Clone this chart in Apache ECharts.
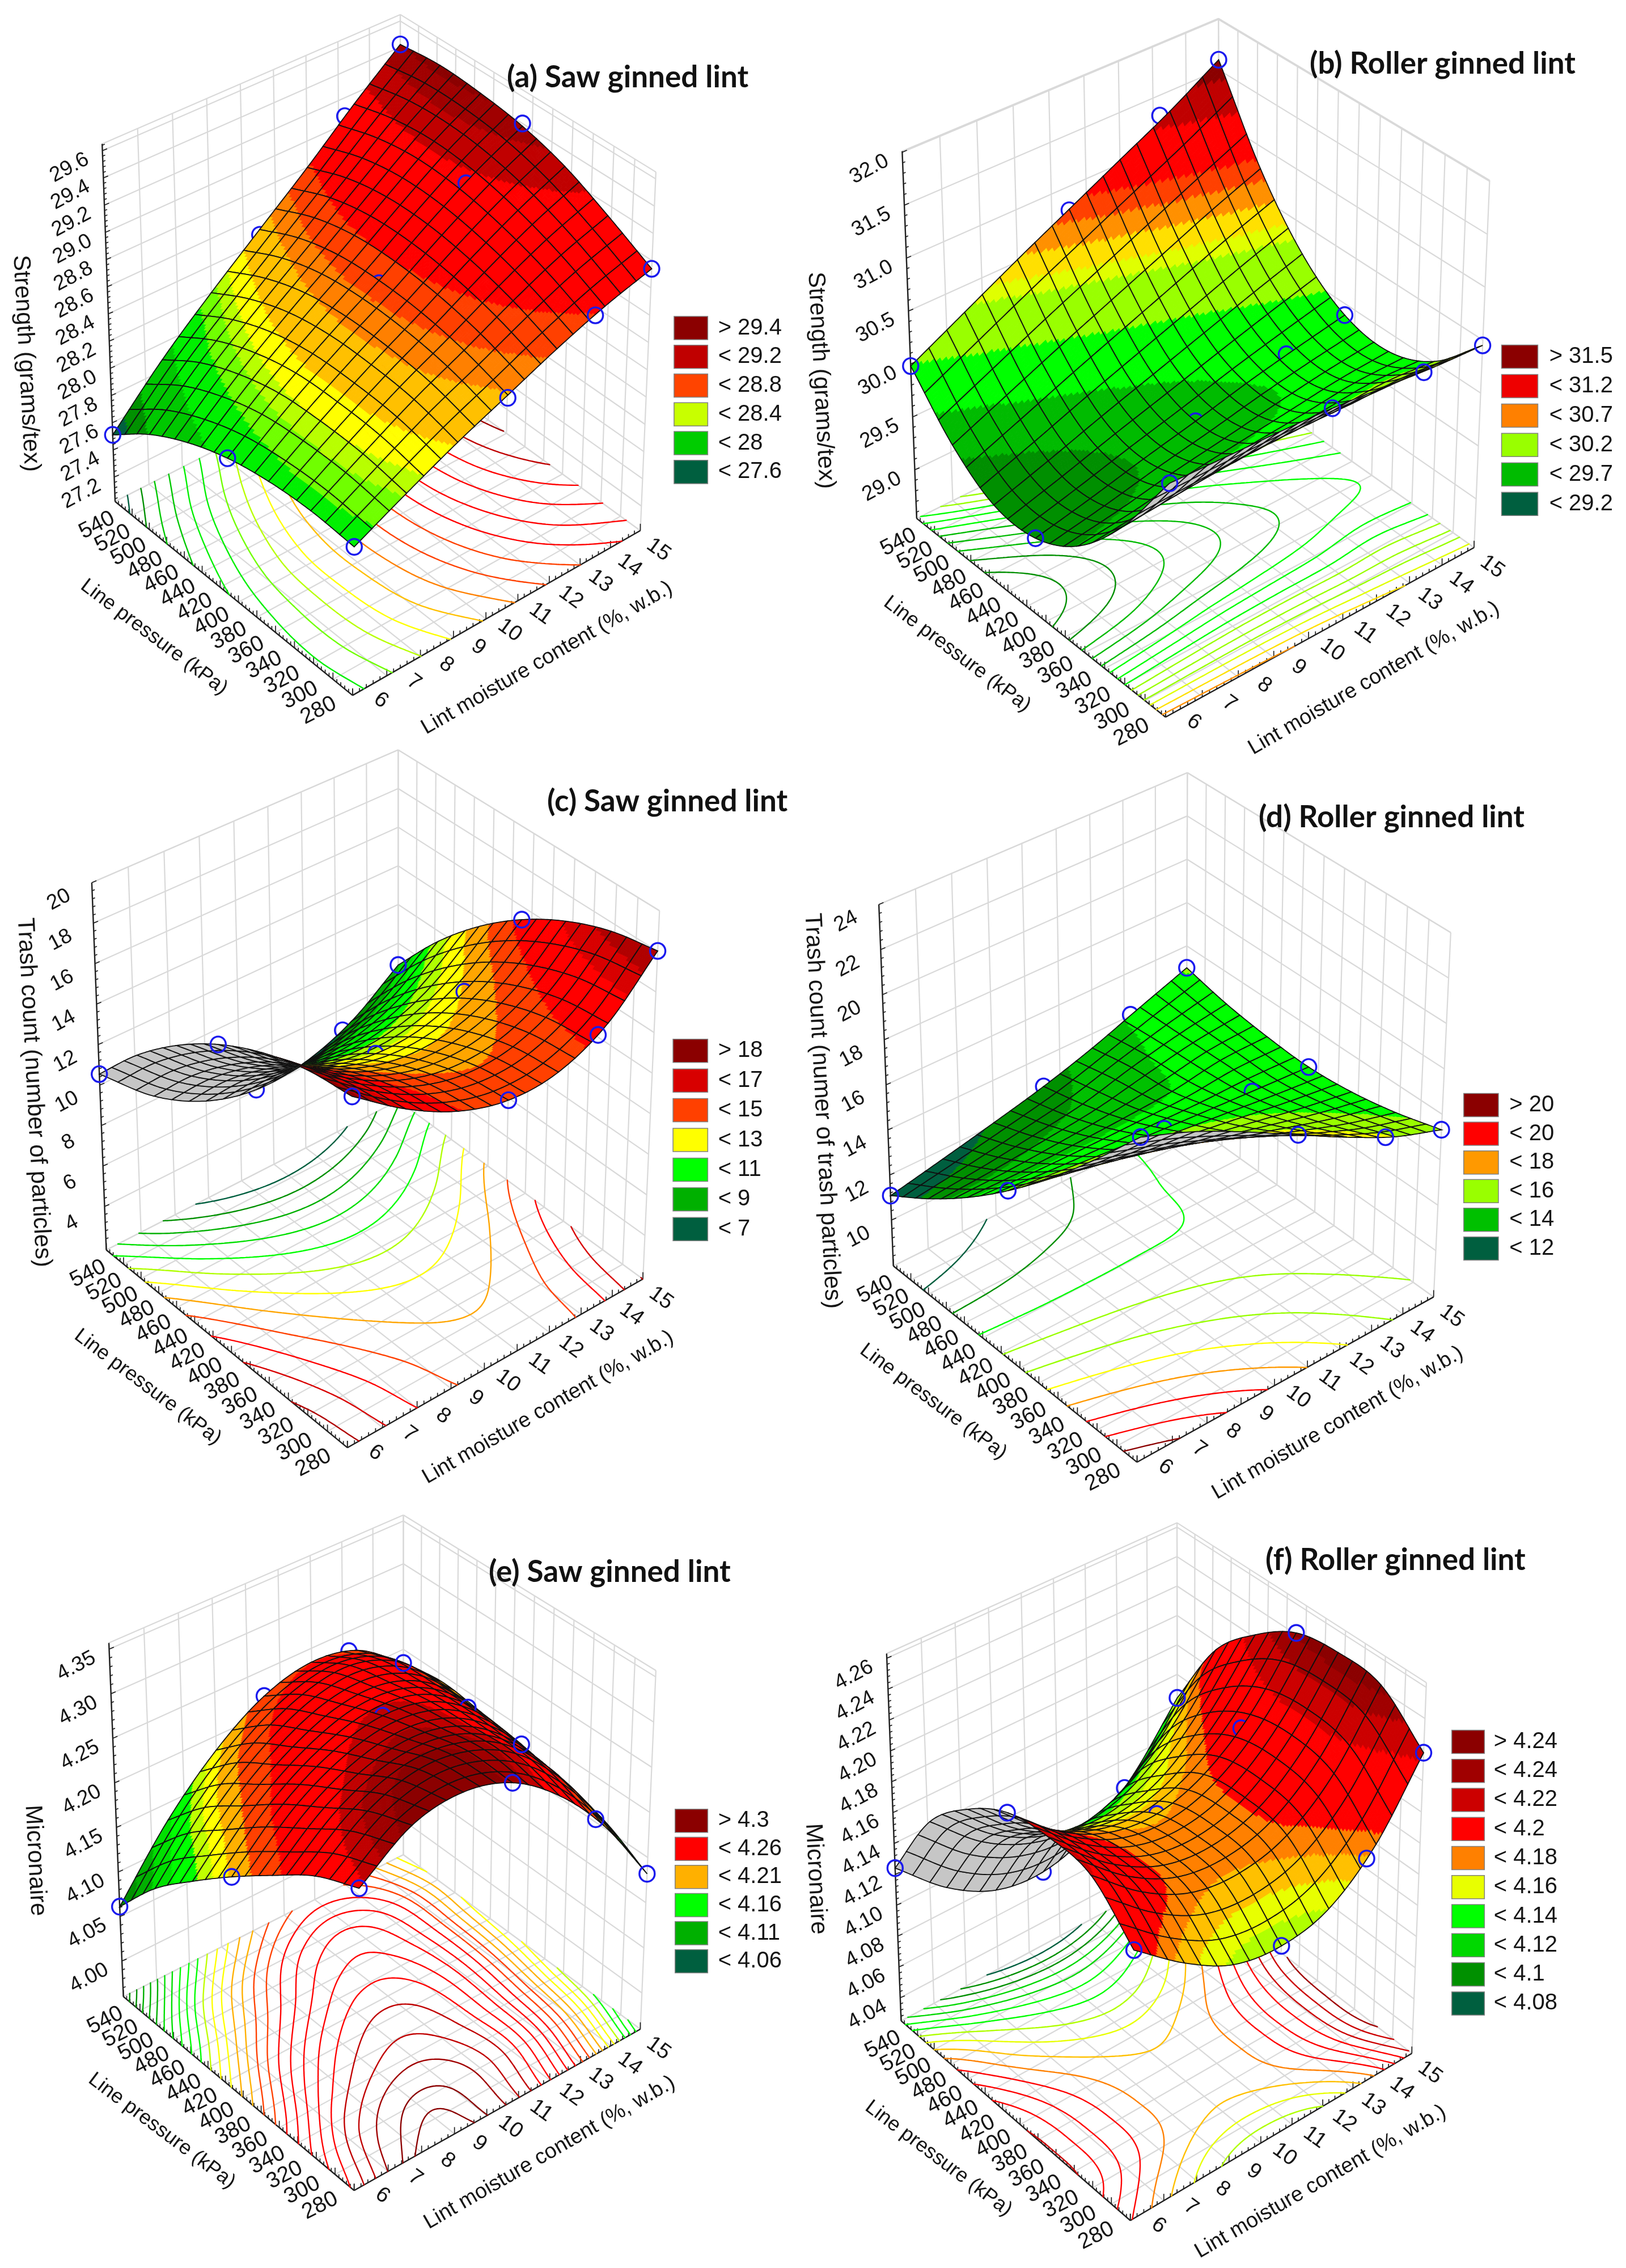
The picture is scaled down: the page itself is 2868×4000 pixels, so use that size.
<!DOCTYPE html>
<html><head><meta charset="utf-8">
<style>html,body{margin:0;padding:0;background:#fff}#chart{width:2868px;height:4000px}</style>
<script src="https://cdn.jsdelivr.net/npm/echarts@6/dist/echarts.min.js"></script>
</head><body><div id="chart"></div>
<script>
// ---------- axes shared by all six panels ----------
const moistureTicks = [6,7,8,9,10,11,12,13,14,15];
const pressureTicks = [280,300,320,340,360,380,400,420,440,460,480,500,520,540];
const gridPressure = [280,323,367,410,453,497,540];      // rows of each surface table
const gridMoisture = [6,7.5,9,10.5,12,13.5,15];          // columns of each surface table
const designPressure = [280,410,540];                    // blue circles
const designMoisture = [6,10.5,13.2,15];

// ---------- (a) strength, saw ginned ----------
const strengthSawGrid = [
 [28.06,28.24,28.41,28.56,28.71,28.84,28.94],
 [28.08,28.29,28.49,28.66,28.84,29.00,29.12],
 [28.06,28.30,28.52,28.72,28.93,29.12,29.28],
 [28.00,28.28,28.52,28.74,28.98,29.20,29.38],
 [27.89,28.20,28.47,28.72,28.98,29.23,29.43],
 [27.73,28.07,28.36,28.64,28.92,29.20,29.45],
 [27.51,27.88,28.20,28.50,28.80,29.12,29.42]];
const strengthSawDesign = [[28.06,28.54,28.81,28.94],[28.00,28.72,29.15,29.40],[27.51,28.46,29.06,29.42]];
const strengthSawLimits = [27.6,27.72,27.95,28.13,28.23,28.3,28.4,28.57,28.68,28.82,29.2,29.33,29.42];
const strengthSawBands = ['#005f3f','#009000','#00c800','#00f000','#70ff00','#b8ff00','#ffff00','#ffc000','#ff8000','#ff4000','#ff0000','#c00000','#a00000','#8b0000'];
const strengthSawContours = [27.6,27.7,27.8,27.9,28.0,28.1,28.2,28.3,28.4,28.5,28.6,28.7,28.8,28.9,29.0,29.1,29.2,29.3,29.4];
const strengthSawLegend = ['> 29.4','< 29.2','< 28.8','< 28.4','< 28','< 27.6'];
const strengthSawLegendColors = ['#8b0000','#c00000','#ff4400','#c8ff00','#00cc00','#005f3f'];
const strengthSawZTicks = ['27.2','27.4','27.6','27.8','28.0','28.2','28.4','28.6','28.8','29.0','29.2','29.4','29.6'];

// ---------- (b) strength, roller ginned ----------
const strengthRollerGrid = [
 [30.65,30.63,30.61,30.58,30.53,30.48,30.45],
 [29.95,29.99,30.02,30.03,30.03,30.05,30.01],
 [29.47,29.53,29.61,29.67,29.73,29.79,29.82],
 [29.24,29.35,29.47,29.58,29.70,29.80,29.89],
 [29.25,29.41,29.58,29.74,29.90,30.06,30.21],
 [29.52,29.74,29.96,30.17,30.38,30.59,30.78],
 [29.98,30.25,30.52,30.78,31.04,31.30,31.60]];
const strengthRollerDesign = [[30.65,30.58,30.48,30.45],[29.24,29.58,29.79,29.89],[29.98,30.77,31.30,31.60]];
const strengthRollerLimits = [29.2,29.45,29.7,30.0,30.3,30.4,30.55,30.7,30.85,31.2,31.45];
const strengthRollerBands = ['#005f3f','#008f00','#00bb00','#00ff00','#99ff00','#e0ff00','#ffe000','#ff9000','#ff4000','#ff0000','#c00000','#8b0000'];
const strengthRollerContours = [29.2,29.3,29.4,29.5,29.6,29.7,29.8,29.9,30.0,30.1,30.2,30.3,30.4,30.5,30.6,30.7,30.8,30.9,31.0,31.1,31.2];
const strengthRollerLegend = ['> 31.5','< 31.2','< 30.7','< 30.2','< 29.7','< 29.2'];
const strengthRollerLegendColors = ['#8b0000','#ee0000','#ff8000','#99ff00','#00bb00','#005f3f'];
const strengthRollerZTicks = ['29.0','29.5','30.0','30.5','31.0','31.5','32.0'];

// ---------- (c) trash count, saw ginned ----------
const trashSawGrid = [
 [18.42,16.53,15.13,14.39,14.50,15.66,18.02],
 [18.17,16.20,14.80,14.10,14.24,15.36,17.56],
 [17.47,15.43,14.03,13.35,13.51,14.58,16.65],
 [16.37,14.25,12.83,12.18,12.35,13.38,15.33],
 [14.85,12.66,11.22,10.57,10.75,11.74,13.60],
 [12.92,10.64,9.18,8.53,8.71,9.68,11.45],
 [10.54,8.19,6.70,6.04,6.21,7.15,8.87]];
const trashSawDesign = [[18.42,14.39,15.33,18.02],[16.37,12.18,13.10,15.33],[10.54,6.04,6.90,8.87]];
const trashSawLimits = [7,8,9,10,11,12,13,14,15,16.5,17.3,18];
const trashSawBands = ['#005f3f','#009000','#00b000','#00e000','#00ff00','#b0ff00','#ffff00','#ffa500','#ff4000','#ff0000','#d80000','#b00000','#8b0000'];
const trashSawContours = [7,8,9,10,11,12,13,14,15,16,17,18];
const trashSawLegend = ['> 18','< 17','< 15','< 13','< 11','< 9','< 7'];
const trashSawLegendColors = ['#8b0000','#d80000','#ff4000','#ffff00','#00ff00','#00b000','#005f3f'];
const trashSawZTicks = ['4','6','8','10','12','14','16','18','20'];

// ---------- (d) trash count, roller ginned ----------
const trashRollerGrid = [
 [21.74,20.81,19.65,18.40,17.18,16.10,15.32],
 [19.38,18.65,17.84,16.96,16.12,15.35,14.75],
 [17.22,16.71,16.20,15.68,15.20,14.74,14.36],
 [15.32,15.05,14.83,14.64,14.48,14.33,14.19],
 [13.67,13.64,13.69,13.78,13.92,14.25,14.30],
 [12.27,12.50,12.80,13.14,13.72,14.20,14.55],
 [11.08,11.58,12.10,12.66,13.35,14.18,14.99]];
const trashRollerDesign = [[21.74,18.40,16.30,15.32],[15.32,14.64,14.35,14.19],[11.08,12.66,14.04,14.99]];
const trashRollerLimits = [12,13,13.9,14.9,16,17,18,20];
const trashRollerBands = ['#005f3f','#009000','#00c000','#00ff00','#99ff00','#ffff00','#ff9900','#ff0000','#8b0000'];
const trashRollerContours = [12,13,14,15,16,17,18,19,20,21];
const trashRollerLegend = ['> 20','< 20','< 18','< 16','< 14','< 12'];
const trashRollerLegendColors = ['#8b0000','#ff0000','#ff9900','#99ff00','#00c000','#005f3f'];
const trashRollerZTicks = ['10','12','14','16','18','20','22','24'];

// ---------- (e) micronaire, saw ginned ----------
const micSawGrid = [
 [4.282,4.321,4.329,4.312,4.271,4.211,4.132],
 [4.261,4.303,4.321,4.314,4.285,4.231,4.158],
 [4.228,4.274,4.299,4.303,4.283,4.238,4.170],
 [4.193,4.245,4.277,4.290,4.280,4.243,4.181],
 [4.155,4.211,4.250,4.272,4.271,4.243,4.187],
 [4.114,4.177,4.223,4.252,4.260,4.240,4.192],
 [4.061,4.131,4.184,4.220,4.234,4.223,4.184]];
const micSawDesign = [[4.282,4.312,4.224,4.132],[4.193,4.290,4.253,4.181],[4.061,4.220,4.227,4.184]];
const micSawLimits = [4.06,4.085,4.11,4.135,4.16,4.175,4.19,4.21,4.235,4.285,4.30,4.315];
const micSawBands = ['#005f3f','#008f00','#00b000','#00e000','#00ff00','#c0ff00','#ffff00','#ffb000','#ff4000','#ff0000','#c00000','#a00000','#8b0000'];
const micSawContours = [4.05,4.06,4.07,4.08,4.09,4.10,4.11,4.12,4.13,4.14,4.15,4.16,4.17,4.18,4.19,4.20,4.21,4.22,4.23,4.24,4.25,4.26,4.27,4.28,4.29,4.30,4.31,4.32,4.325];
const micSawLegend = ['> 4.3','< 4.26','< 4.21','< 4.16','< 4.11','< 4.06'];
const micSawLegendColors = ['#8b0000','#ff0000','#ffb000','#00ff00','#00b000','#005f3f'];
const micSawZTicks = ['4.00','4.05','4.10','4.15','4.20','4.25','4.30','4.35'];

// ---------- (f) micronaire, roller ginned ----------
const micRollerGrid = [
 [4.191,4.166,4.148,4.143,4.150,4.175,4.218],
 [4.217,4.190,4.173,4.169,4.177,4.201,4.243],
 [4.221,4.194,4.177,4.173,4.182,4.207,4.246],
 [4.217,4.189,4.172,4.168,4.178,4.202,4.241],
 [4.200,4.171,4.154,4.149,4.159,4.185,4.222],
 [4.173,4.144,4.127,4.122,4.132,4.156,4.194],
 [4.124,4.095,4.077,4.073,4.083,4.107,4.144]];
const micRollerDesign = [[4.191,4.143,4.169,4.218],[4.217,4.168,4.196,4.241],[4.124,4.073,4.101,4.144]];
const micRollerLimits = [4.08,4.10,4.12,4.14,4.15,4.16,4.17,4.18,4.215,4.23,4.24];
const micRollerBands = ['#005f3f','#009000','#00d800','#00ff00','#b0ff00','#e8ff00','#ffc000','#ff8000','#ff0000','#cc0000','#a00000','#8b0000'];
const micRollerContours = [4.08,4.09,4.10,4.11,4.12,4.13,4.14,4.15,4.16,4.17,4.18,4.19,4.20,4.21,4.22,4.23,4.24];
const micRollerLegend = ['> 4.24','< 4.24','< 4.22','< 4.2','< 4.18','< 4.16','< 4.14','< 4.12','< 4.1','< 4.08'];
const micRollerLegendColors = ['#8b0000','#a00000','#cc0000','#ff0000','#ff8000','#e8ff00','#00ff00','#00d800','#009000','#005f3f'];
const micRollerZTicks = ['4.04','4.06','4.08','4.10','4.12','4.14','4.16','4.18','4.20','4.22','4.24','4.26'];

// ---------- layout (pixels of the page; u/v are measured on a 1568-square view of each quadrant) ----------
const SX = 1434/1568, SY = 1340/1568, FONT = 'Liberation Sans';
const panels = [
 {title:'(a) Saw ginned lint',zTitle:'Strength (grams/tex)',grid:strengthSawGrid,design:strengthSawDesign,limits:strengthSawLimits,bands:strengthSawBands,contours:strengthSawContours,legend:strengthSawLegend,legendColors:strengthSawLegendColors,zTicks:strengthSawZTicks,
  ox:0,oy:0,zr:[27.02,29.65],FL:[222,1035],FF:[680,1435],FR:[1235,1095],FB:[772,735],TL:[197,297],TF:[688,660],TR:[1265,355],TB:[772,30],
  tx:894,ty:137,ztp:[50,750],ptp:[297,1315],mtp:[1055,1358],lg:[1300,1365,677,974,1385]},
 {title:'(b) Roller ginned lint',zTitle:'Strength (grams/tex)',grid:strengthRollerGrid,design:strengthRollerDesign,limits:strengthRollerLimits,bands:strengthRollerBands,contours:strengthRollerContours,legend:strengthRollerLegend,legendColors:strengthRollerLegendColors,zTicks:strengthRollerZTicks,
  ox:1434,oy:0,zr:[28.54,32.01],FL:[200,1070],FF:[680,1480],FR:[1275,1130],FB:[785,760],TL:[172,312],TF:[693,686],TR:[1305,372],TB:[782,38],
  tx:2310,ty:113,ztp:[15,785],ptp:[278,1350],mtp:[1082,1400],lg:[1328,1398,736,1040,1420]},
 {title:'(c) Saw ginned lint',zTitle:'Trash count (number of particles)',grid:trashSawGrid,design:trashSawDesign,limits:trashSawLimits,bands:trashSawBands,contours:trashSawContours,legend:trashSawLegend,legendColors:trashSawLegendColors,zTicks:trashSawZTicks,
  ox:0,oy:1320,zr:[1.85,20],FL:[205,1035],FF:[670,1443],FR:[1240,1095],FB:[768,727],TL:[177,277],TF:[680,649],TR:[1272,335],TB:[768,3],
  tx:965,ty:1414,ztp:[65,710],ptp:[285,1318],mtp:[1057,1360],lg:[1298,1365,624,992,1385]},
 {title:'(d) Roller ginned lint',zTitle:'Trash count (numer of trash particles)',grid:trashRollerGrid,design:trashRollerDesign,limits:trashRollerLimits,bands:trashRollerBands,contours:trashRollerContours,legend:trashRollerLegend,legendColors:trashRollerLegendColors,zTicks:trashRollerZTicks,
  ox:1434,oy:1320,zr:[7.96,24],FL:[155,1068],FF:[625,1473],FR:[1197,1132],FB:[720,767],TL:[127,322],TF:[633,692],TR:[1230,380],TB:[722,50],
  tx:2220,ty:1442,ztp:[18,748],ptp:[232,1348],mtp:[1012,1392],lg:[1255,1322,736,1032,1343]},
 {title:'(e) Saw ginned lint',zTitle:'Micronaire',grid:micSawGrid,design:micSawDesign,limits:micSawLimits,bands:micSawBands,contours:micSawContours,legend:micSawLegend,legendColors:micSawLegendColors,zTicks:micSawZTicks,
  ox:0,oy:2660,zr:[3.96,4.357],FL:[238,1008],FF:[683,1408],FR:[1235,1075],FB:[778,715],TL:[210,278],TF:[695,639],TR:[1265,335],TB:[778,14],
  tx:862,ty:2773,ztp:[68,727],ptp:[312,1285],mtp:[1060,1330],lg:[1302,1365,645,935,1385]},
 {title:'(f) Roller ginned lint',zTitle:'Micronaire',grid:micRollerGrid,design:micRollerDesign,limits:micRollerLimits,bands:micRollerBands,contours:micRollerContours,legend:micRollerLegend,legendColors:micRollerLegendColors,zTicks:micRollerZTicks,
  ox:1434,oy:2660,zr:[4.025,4.263],FL:[170,1058],FF:[612,1470],FR:[1155,1125],FB:[703,753],TL:[142,300],TF:[622,670],TR:[1183,360],TB:[702,30],
  tx:2232,ty:2752,ztp:[5,765],ptp:[242,1342],mtp:[979,1390],lg:[1232,1295,482,1022,1313]}
];

const MESH = 18, SUB = 8, WARP = 0.08;
const warp = t => t*(1+WARP)/(1+WARP*t);
const rad = d => -d*Math.PI/180;
const lerp = (a,b,t) => a+(b-a)*t;

function catmull(a,b,c,d,t){return 0.5*(2*b+(c-a)*t+(2*a-5*b+4*c-d)*t*t+(3*b-a-3*c+d)*t*t*t);}
function sample1(arr,s){
  const n=arr.length-1, i=Math.min(Math.floor(s),n-1), t=s-i;
  const g=k=>k<0?2*arr[0]-arr[1]:k>n?2*arr[n]-arr[n-1]:arr[k];
  return catmull(g(i-1),g(i),g(i+1),g(i+2),t);
}
function surfaceAt(grid,pf,mf){
  const s=mf*(grid[0].length-1);
  return sample1(grid.map(r=>sample1(r,s)),pf*(grid.length-1));
}

function buildPanel(P){
  const pts={};
  ['FL','FF','FR','FB','TL','TF','TR','TB'].forEach(k=>pts[k]=[P.ox+P[k][0]*SX,P.oy+P[k][1]*SY]);
  const bil=(a,b,c,d,u,v,i)=>a[i]*(1-u)*(1-v)+b[i]*u*(1-v)+c[i]*(1-u)*v+d[i]*u*v;
  const proj=(mf,pf,w)=>{
    const u=warp(mf),v=warp(pf);
    return [0,1].map(i=>(1-w)*bil(pts.FF,pts.FR,pts.FL,pts.FB,u,v,i)+w*bil(pts.TF,pts.TR,pts.TL,pts.TB,u,v,i));
  };
  const mF=m=>(m-6)/9, pF=p=>(p-280)/260, wOf=z=>(z-P.zr[0])/(P.zr[1]-P.zr[0]);
  const bandOf=z=>{for(let i=0;i<P.limits.length;i++) if(z<P.limits[i]) return P.bands[i]; return P.bands[P.bands.length-1];};
  const px=(zx,zy)=>[P.ox+zx*SX,P.oy+zy*SY];
  const items=[];
  const line=(a,b,stroke,lw)=>items.push({type:'polyline',shape:{points:[a,b]},style:{fill:'none',stroke:stroke,lineWidth:lw}});
  const text=(t,pos,deg,size,align)=>items.push({type:'text',x:pos[0],y:pos[1],rotation:rad(deg),style:{text:t,font:size+'px "Liberation Sans"',fontSize:size,fontFamily:FONT,fill:'#141414',align:align||'center',verticalAlign:'middle'}});
  const GRID='#d9d9d9';
  const zVals=P.zTicks.map(parseFloat);
  // walls and floor
  moistureTicks.forEach(m=>{const f=mF(m);
    line(proj(f,1,0),proj(f,1,1),GRID,2.2);
    line(proj(f,1,0),proj(f,0,0),GRID,2.2);});
  pressureTicks.forEach(p=>{const f=pF(p);
    line(proj(1,f,0),proj(1,f,1),GRID,2.2);
    line(proj(0,f,0),proj(1,f,0),GRID,2.2);});
  zVals.concat(P.zr).forEach(z=>{const w=wOf(z);
    line(proj(0,1,w),proj(1,1,w),GRID,2.2);
    line(proj(1,1,w),proj(1,0,w),GRID,2.2);});
  // axes
  const AX='#202020';
  line(proj(0,1,0),proj(0,1,1),AX,2.4);
  line(proj(0,1,0),proj(0,0,0),AX,2.4);
  line(proj(0,0,0),proj(1,0,0),AX,2.4);
  const tick=(a,dx,dy,len)=>line(a,[a[0]+dx*len,a[1]+dy*len],AX,1.7);
  P.zTicks.forEach((lab,i)=>{
    const a=proj(0,1,wOf(zVals[i])); tick(a,.92,-.38,9);
    text(lab,[a[0]-58,a[1]+30],-28,37);
    const step=zVals.length>1?zVals[1]-zVals[0]:0;
    for(let k=1;k<5;k++){const w=wOf(zVals[i]+step*k/5); if(w<1) tick(proj(0,1,w),.92,-.38,5);}
    for(let k=1;k<5;k++){const w=wOf(zVals[i]-step*k/5); if(i===0&&w>0) tick(proj(0,1,w),.92,-.38,5);}
  });
  pressureTicks.forEach((p,i)=>{
    const f=pF(p), a=proj(0,f,0); tick(a,0,-1,12);
    text(String(p),[a[0]+lerp(-60,-32,f),a[1]+lerp(27,42,f)],-27,39);
    if(i<pressureTicks.length-1) for(let k=1;k<5;k++) tick(proj(0,pF(p+4*k),0),0,-1,6);
  });
  moistureTicks.forEach((m,i)=>{
    const f=mF(m), a=proj(f,0,0); tick(a,0,-1,12);
    text(String(m),[a[0]+lerp(50,32,f),a[1]+lerp(9,34,f)],36,38);
    if(i<moistureTicks.length-1) for(let k=1;k<5;k++) tick(proj(mF(m+.2*k),0,0),0,-1,6);
  });
  text(P.zTitle,px(P.ztp[0],P.ztp[1]),87,42);
  text('Line pressure (kPa)',px(P.ptp[0],P.ptp[1]),37,36);
  text('Lint moisture content (%, w.b.)',px(P.mtp[0],P.mtp[1]),-30,37.5);
  // legend
  const [lx0,lx1,ly0,ly1,ltx]=P.lg, n=P.legend.length;
  P.legend.forEach((lab,i)=>{
    const yc=ly0+(ly1-ly0)*i/(n-1), a=px(lx0,yc-24), b=px(lx1,yc+24);
    items.push({type:'rect',shape:{x:a[0],y:a[1],width:b[0]-a[0],height:b[1]-a[1]},style:{fill:P.legendColors[i],stroke:'#808080',lineWidth:1.5}});
    text(lab,px(ltx,yc),0,40,'left');
  });
  // sample the surface
  const N=MESH*SUB, Z=[], XY=[];
  for(let r=0;r<=N;r++){Z.push([]);XY.push([]);
    for(let c=0;c<=N;c++){const z=surfaceAt(P.grid,r/N,c/N);Z[r].push(z);XY[r].push(proj(c/N,r/N,wOf(z)));}}
  // floor contours
  P.contours.forEach(level=>{
    let d='';
    const fx=(r,c)=>proj(c/N,r/N,0);
    const cross=(r1,c1,r2,c2)=>{const a=Z[r1][c1],b=Z[r2][c2],t=(level-a)/(b-a);return fx(r1+(r2-r1)*t,c1+(c2-c1)*t);};
    for(let r=0;r<N;r++)for(let c=0;c<N;c++){
      const e=[];
      const a=Z[r][c],b=Z[r][c+1],cc=Z[r+1][c+1],dd=Z[r+1][c];
      if((a<level)!==(b<level))e.push(cross(r,c,r,c+1));
      if((b<level)!==(cc<level))e.push(cross(r,c+1,r+1,c+1));
      if((cc<level)!==(dd<level))e.push(cross(r+1,c+1,r+1,c));
      if((dd<level)!==(a<level))e.push(cross(r+1,c,r,c));
      for(let k=0;k+1<e.length;k+=2)d+='M'+e[k][0].toFixed(1)+' '+e[k][1].toFixed(1)+'L'+e[k+1][0].toFixed(1)+' '+e[k+1][1].toFixed(1);
    }
    if(d)items.push({type:'path',shape:{pathData:d},style:{fill:'none',stroke:bandOf(level-1e-6),lineWidth:2.4,lineCap:'round'}});
  });
  // surface, painted from the back corner to the front corner
  const sign=v=>v>0?1:-1;
  const area=(a,b,c,d)=>{const q=[a,b,c,d];let s=0;for(let i=0;i<4;i++){const p=q[i],n=q[(i+1)%4];s+=p[0]*n[1]-n[0]*p[1];}return s;};
  const fl=[proj(0,0,0),proj(1,0,0),proj(1,1,0),proj(0,1,0)], up=sign(area(fl[0],fl[1],fl[2],fl[3]));
  const ring=(m,p,z)=>{const a=proj(mF(m),pF(p),wOf(z));return{type:'ellipse',shape:{cx:a[0],cy:a[1],rx:13.5,ry:14},style:{fill:'transparent',stroke:'#1a1aee',lineWidth:3.4}};};
  const inserted={}, top=[], first=[];
  designPressure.forEach((p,ri)=>designMoisture.forEach((m,ci)=>{
    const el=ring(m,p,P.design[ri][ci]);
    if(p===280||m===6||m===15){top.push(el);return;}
    if(p===540){first.push(el);return;}
    const key=Math.floor(pF(p)*MESH)+':'+Math.floor(mF(m)*MESH);
    inserted[key]=el;
  }));
  first.forEach(e=>items.push(e));
  for(let R=MESH-1;R>=0;R--)for(let C=MESH-1;C>=0;C--){
    const kids=[],subs=[]; let same=true, first0=null;
    for(let r=R*SUB;r<(R+1)*SUB;r++)for(let c=C*SUB;c<(C+1)*SUB;c++){
      const a=XY[r][c],b=XY[r][c+1],e=XY[r+1][c+1],f=XY[r+1][c];
      const flip=sign(area(a,b,e,f))!==up;
      const col=flip?'#c6c6c6':bandOf((Z[r][c]+Z[r][c+1]+Z[r+1][c+1]+Z[r+1][c])/4);
      if(first0===null)first0=col; else if(col!==first0)same=false;
      subs.push({p:[a,b,e,f],col});
    }
    const rim=[];
    const r0=R*SUB,r1=(R+1)*SUB,c0=C*SUB,c1=(C+1)*SUB;
    for(let c=c0;c<=c1;c++)rim.push(XY[r0][c]);
    for(let r=r0+1;r<=r1;r++)rim.push(XY[r][c1]);
    for(let c=c1-1;c>=c0;c--)rim.push(XY[r1][c]);
    for(let r=r1-1;r>r0;r--)rim.push(XY[r][c0]);
    if(same) kids.push({type:'polygon',shape:{points:rim},style:{fill:first0,stroke:first0,lineWidth:1}});
    else subs.forEach(s=>kids.push({type:'polygon',shape:{points:s.p},style:{fill:s.col,stroke:s.col,lineWidth:1}}));
    kids.push({type:'polygon',shape:{points:rim},style:{fill:'none',stroke:'#101010',lineWidth:1.8}});
    items.push({type:'group',children:kids});
    const k=R+':'+C; if(inserted[k])items.push(inserted[k]);
  }
  top.forEach(e=>items.push(e));
  return items;
}

const chart = echarts.init(document.getElementById('chart'),null,{renderer:'canvas',width:2868,height:4000});
const series = panels.map(P=>{
  const items=buildPanel(P);
  return {type:'custom',coordinateSystem:'none',silent:true,animation:false,progressive:0,clip:false,
    data:items.map((_,i)=>[i]),
    renderItem:(params)=>items[params.dataIndex]};
});
chart.setOption({
  backgroundColor:'#ffffff',animation:false,textStyle:{fontFamily:FONT},
  title:panels.map(P=>({text:P.title,left:P.tx,top:P.ty-33,textStyle:{fontFamily:'Lato',fontWeight:'bold',fontSize:53,color:'#111',lineHeight:66},padding:0})),
  series
});
</script></body></html>
